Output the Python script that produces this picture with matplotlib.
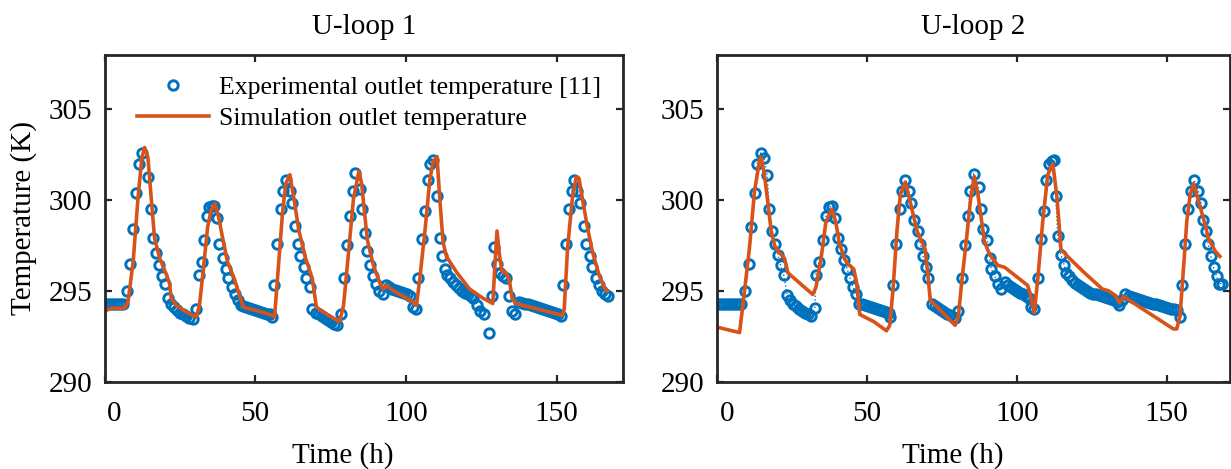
import matplotlib
matplotlib.use("Agg")
import matplotlib.pyplot as plt
import matplotlib.transforms as mtransforms

plt.rcParams['font.family'] = ['Liberation Serif', 'DejaVu Serif']
plt.rcParams['mathtext.fontset'] = 'stix'

BLUE = '#0072BD'
ORANGE = '#D95319'
AX_COL = '#262626'

titles = ['U-loop 1', 'U-loop 2']
xticks = [0, 50, 100, 150]
yticks = [290, 295, 300, 305]
exp_label = 'Experimental outlet temperature [11]'
sim_label = 'Simulation outlet temperature'

# ---- U-loop 1 : experimental (markers) ----
t_exp1 = [0, 1, 2, 3, 4, 5, 6, 7.3, 8.4, 9.5, 10.3, 11.4, 12.5, 14.4, 15.3, 16.1,
          17.2, 18.0, 19.1, 19.9, 21.0, 22, 23, 24, 25, 26, 27, 28, 29.3, 30.4,
          31.2, 32.3, 33.1, 34.0, 34.8, 35.6, 36.3, 37.3, 38.1, 39.2, 40.3, 41.1,
          42.2, 43.3, 44.4, 45.2, 46, 47, 48, 49, 50, 51, 52, 53, 54, 55, 55.6,
          56.2, 57.3, 58.4, 59.2, 60.1, 61.4, 62.3, 63.1, 64.2, 65.0, 66.1, 67.0,
          68.1, 68.9, 70, 71, 72, 73, 74, 75, 76, 77, 78.3, 79.3, 80.4, 81.5,
          82.4, 83.2, 84.6, 85.5, 86.3, 87.0, 88.1, 89.0, 90.1, 91.2, 92.3, 93.4,
          94.5, 95.5, 96.5, 97.5, 98.5, 99.5, 100.5, 101.3, 102.2, 103.3, 104.1,
          105.2, 106.3, 107.4, 108.1, 109.0, 110.3, 111.2, 112.1, 112.9, 113.7,
          114.5, 115.5, 116.5, 117.5, 118.5, 119.5, 120.5, 121.5, 122.3, 123.4,
          124.6, 126.0, 127.6, 128.6, 129.3, 130.1, 131.2, 132.2, 133.1, 134.2,
          135.2, 136.3, 137.6, 138.6, 139.6, 140.6, 141.6, 142.6, 143.6, 144.6,
          145.6, 146.6, 147.6, 148.6, 149.6, 150.6, 151.4, 152.1, 153.2, 154.1,
          155.0, 155.7, 156.9, 157.6, 159.1, 159.8, 160.9, 161.8, 162.9, 164.0,
          165.1, 166.0, 167.1]
T_exp1 = [294.3, 294.3, 294.3, 294.3, 294.3, 294.3, 294.3, 295.0, 296.5, 298.4,
          300.4, 302.0, 302.6, 301.3, 299.5, 297.9, 297.1, 296.4, 295.8, 295.4,
          294.6, 294.3, 294.1, 293.95, 293.8, 293.7, 293.6, 293.5, 293.45, 294.0,
          295.9, 296.6, 297.8, 299.1, 299.6, 299.65, 299.7, 299.0, 297.6, 296.8,
          296.2, 295.7, 295.2, 294.85, 294.5, 294.2, 294.15, 294.1, 294.05, 294.0,
          293.95, 293.9, 293.85, 293.8, 293.75, 293.7, 293.55, 295.3, 297.6, 299.5,
          300.5, 301.1, 300.5, 299.85, 298.6, 297.6, 296.9, 296.3, 295.7, 295.2,
          294.0, 293.8, 293.7, 293.6, 293.5, 293.4, 293.3, 293.2, 293.1, 293.7,
          295.7, 297.5, 299.1, 300.5, 301.5, 300.6, 299.5, 298.2, 297.2, 296.4,
          295.8, 295.4, 295.0, 294.85, 295.3, 295.2, 295.1, 295.05, 295.0, 294.95,
          294.9, 294.8, 294.7, 294.1, 294.0, 295.7, 297.85, 299.4, 301.1, 302.0,
          302.2, 300.2, 297.9, 296.9, 296.2, 295.9, 295.7, 295.5, 295.3, 295.15,
          295.0, 294.9, 294.8, 294.7, 294.6, 294.2, 293.9, 293.7, 292.65, 294.7,
          297.4, 296.5, 296.0, 295.8, 295.7, 294.7, 293.9, 293.7, 294.4, 294.35,
          294.3, 294.25, 294.2, 294.15, 294.1, 294.05, 294.0, 293.95, 293.9, 293.85,
          293.8, 293.75, 293.6, 295.3, 297.6, 299.5, 300.5, 301.1, 300.5, 299.85,
          298.6, 297.6, 296.9, 296.3, 295.7, 295.3, 295.0, 294.8, 294.7]

# ---- U-loop 1 : simulation (line) ----
t_sim1 = [0.3, 2.3, 6.7, 7.8, 9.5, 11.1, 12.4, 13.3, 14.4, 15.5, 16.6, 18.3, 20.5,
          21.6, 22.1, 23.8, 26.5, 30.4, 31.5, 32.6, 34.2, 35.3, 36.6, 37.7, 39.2,
          40.8, 43.0, 44.1, 46.1, 50.7, 55.7, 56.4, 57.3, 59.0, 60.1, 61.5, 62.8,
          64.5, 66.7, 68.9, 70.3, 73.8, 78.0, 79.3, 81.0, 82.6, 84.4, 85.3, 86.2,
          87.2, 89.2, 91.4, 92.5, 93.6, 95.8, 101.3, 103.5, 104.6, 106.3, 107.9,
          109.0, 110.3, 111.2, 112.3, 113.4, 116.7, 121.1, 125.5, 128.8, 129.5,
          130.2, 131.0, 131.8, 133.2, 134.3, 135.2, 136.5, 138.7, 150.8, 151.9,
          152.5, 153.6, 155.2, 156.5, 157.4, 158.5, 160.2, 161.8, 164.0, 165.7,
          166.8]
T_sim1 = [293.9, 294.05, 294.05, 294.4, 296.6, 300.1, 302.35, 302.9, 302.35, 300.1,
          297.9, 296.8, 295.9, 295.4, 294.6, 294.2, 293.9, 293.55, 294.2, 295.9,
          298.5, 299.4, 299.8, 299.2, 297.9, 296.6, 295.7, 295.1, 294.1, 293.9,
          293.65, 293.55, 295.5, 299.2, 300.9, 301.4, 300.1, 298.3, 296.8, 295.7,
          294.1, 293.7, 293.3, 294.2, 297.2, 300.1, 301.6, 300.9, 299.4, 297.8,
          296.4, 295.4, 295.1, 295.3, 295.0, 294.5, 294.2, 295.7, 298.3, 301.1,
          302.1, 302.4, 300.1, 297.7, 296.9, 296.05, 295.1, 294.6, 294.3, 296.4,
          298.3, 297.0, 296.1, 296.0, 295.6, 294.6, 294.3, 294.2, 293.7, 293.65,
          294.0, 297.35, 300.1, 301.3, 301.2, 300.1, 298.5, 297.2, 295.9, 295.2,
          295.0]

# ---- U-loop 2 : experimental (markers) ----
t_exp2 = [0, 1, 2, 3, 4, 5, 6, 7, 8, 9.4, 10.5, 11.4, 12.5, 13.4, 14.5, 15.6, 16.7,
          17.4, 18.4, 19.2, 20.3, 21.2, 22.2, 23.4, 24.3, 25.3, 26.3, 27.3, 28.3,
          29.3, 30.3, 31.4, 32.6, 33.0, 34.1, 35.4, 36.3, 37.3, 38.5, 39.4, 40.3,
          41.3, 42.4, 43.4, 44.4, 45.4, 46.5, 47.4, 48.4, 49.4, 50.4, 51.4, 52.4,
          53.4, 54.4, 55.4, 56.4, 57.3, 57.8, 58.7, 59.8, 60.9, 61.7, 62.8, 63.9,
          64.6, 65.6, 66.9, 67.8, 68.7, 69.8, 70.5, 71.7, 72.6, 73.6, 74.6, 75.6,
          76.6, 77.6, 78.6, 79.4, 80.5, 81.6, 82.7, 83.6, 84.4, 85.6, 87.2, 87.9,
          88.7, 90.1, 90.9, 91.5, 92.6, 93.7, 94.8, 95.9, 97.0, 98, 99, 100, 101,
          102, 103, 104.2, 104.8, 105.8, 107.0, 108.0, 108.9, 109.7, 110.8, 111.6,
          112.3, 113.0, 113.6, 114.7, 115.8, 116.4, 117.4, 118.4, 119.4, 120.4,
          121.4, 122.4, 123.4, 124.4, 125.4, 126.4, 127.4, 128.4, 129.4, 130.4,
          131.4, 132.4, 133.3, 134.0, 135.1, 136.2, 137.3, 138.3, 139.3, 140.3,
          141.3, 142.3, 143.3, 144.3, 145.3, 146.3, 147.3, 148.3, 149.3, 150.3,
          151.3, 152.3, 153.3, 154.4, 155.2, 156.1, 157.2, 158.0, 159.1, 160.5,
          161.4, 162.2, 163.0, 163.8, 164.7, 165.6, 166.6, 167.4, 168.3]
T_exp2 = [294.25, 294.25, 294.25, 294.25, 294.25, 294.25, 294.25, 294.25, 294.25,
          295.0, 296.5, 298.5, 300.4, 302.0, 302.6, 302.3, 301.4, 299.5, 298.3,
          297.6, 297.0, 296.4, 295.9, 294.75, 294.5, 294.3, 294.15, 294.0, 293.9,
          293.8, 293.7, 293.6, 294.05, 295.9, 296.6, 297.8, 299.1, 299.6, 299.7,
          299.0, 297.9, 297.3, 296.7, 296.2, 295.7, 295.2, 294.85, 294.3, 294.25,
          294.2, 294.15, 294.1, 294.05, 294.0, 293.95, 293.9, 293.85, 293.8, 293.55,
          295.3, 297.6, 299.5, 300.5, 301.1, 300.5, 299.85, 298.9, 298.3, 297.6,
          296.9, 296.3, 295.7, 294.3, 294.15, 294.05, 293.95, 293.85, 293.75,
          293.65, 293.55, 293.5, 293.9, 295.7, 297.5, 299.1, 300.5, 301.45, 300.7,
          299.5, 298.4, 297.8, 296.8, 296.2, 295.8, 295.4, 295.1, 295.5, 295.3,
          295.2, 295.1, 295.0, 294.9, 294.8, 294.7, 294.6, 294.1, 294.0, 295.7,
          297.85, 299.4, 301.1, 302.0, 302.15, 302.2, 300.2, 298.0, 297.0, 296.4,
          296.0, 295.8, 295.6, 295.45, 295.3, 295.2, 295.1, 295.0, 294.9, 294.85,
          294.8, 294.75, 294.7, 294.65, 294.6, 294.55, 294.5, 294.4, 294.2, 294.5,
          294.8, 294.7, 294.65, 294.6, 294.55, 294.5, 294.45, 294.4, 294.35, 294.3,
          294.25, 294.2, 294.15, 294.1, 294.05, 294.0, 293.98, 293.95, 293.55,
          295.3, 297.6, 299.5, 300.5, 301.1, 300.5, 299.85, 298.9, 298.3, 297.6,
          296.9, 296.3, 295.8, 295.4, 295.4]

# ---- U-loop 2 : simulation (line) ----
t_sim2 = [0.0, 7.5, 8.6, 10.8, 12.5, 14.2, 14.7, 15.8, 17.0, 18.05, 19.2, 20.8,
          22.5, 23.6, 31.9, 33.0, 34.7, 36.3, 38.3, 39.6, 40.7, 42.4, 43.5, 45.6,
          46.5, 47.6, 52.3, 56.5, 57.6, 58.7, 60.0, 61.1, 62.8, 64.5, 66.7, 69.4,
          70.2, 71.1, 79.4, 80.5, 81.6, 83.1, 84.6, 85.8, 87.0, 88.1, 89.2, 90.9,
          93.7, 95.9, 103.6, 104.5, 105.8, 107.0, 108.6, 110.3, 112.0, 113.4,
          114.7, 116.9, 122.5, 128.5, 130.6, 132.8, 134.2, 135.6, 137.3, 152.2,
          153.3, 154.4, 155.5, 156.7, 157.8, 158.9, 160.5, 162.2, 163.9, 166.1,
          167.7]
T_sim2 = [293.0, 292.7, 294.2, 297.35, 300.5, 302.2, 302.35, 301.4, 299.8, 298.3,
          297.5, 297.1, 296.8, 296.0, 294.8, 295.2, 296.8, 298.8, 299.5, 298.8,
          297.7, 296.8, 296.5, 296.2, 295.5, 293.7, 293.3, 292.8, 293.1, 295.1,
          298.3, 300.3, 301.0, 299.85, 298.3, 297.3, 296.1, 294.5, 293.1, 293.6,
          295.5, 297.7, 300.1, 301.3, 300.3, 299.0, 297.7, 297.0, 296.4, 296.3,
          295.3, 294.8, 293.8, 295.7, 298.8, 301.4, 302.0, 300.1, 297.3, 296.9,
          296.0, 295.1, 295.0, 294.75, 294.35, 294.7, 294.5, 292.9, 292.9, 293.6,
          296.1, 298.9, 300.3, 300.9, 300.0, 299.0, 297.9, 297.2, 296.9]

panels = [
    (t_exp1, T_exp1, t_sim1, T_sim1, 'None'),
    (t_exp2, T_exp2, t_sim2, T_sim2, ':'),
]

fig = plt.figure(figsize=(12.31, 4.69), dpi=100)
ax1 = fig.add_axes([0.0849, 0.1864, 0.4212, 0.6964])
ax2 = fig.add_axes([0.5825, 0.1864, 0.4165, 0.6964])
axes = [ax1, ax2]
xlims = [(0.5, 172), (0.5, 171)]

for i, ax in enumerate(axes):
    te, Te, ts, Ts, ls = panels[i]
    ax.plot(te, Te, linestyle=ls, lw=1.0, color=BLUE, marker='o', ms=6.8,
            mfc='none', mec=BLUE, mew=2.1, label=exp_label)
    ax.plot(ts, Ts, '-', color=ORANGE, lw=2.6, label=sim_label)

    ax.set_xlim(*xlims[i])
    ax.set_ylim(290, 308)
    ax.set_xticks(xticks)
    ax.set_yticks(yticks)
    ax.tick_params(direction='in', length=5, width=1.6, colors=AX_COL,
                   labelcolor='black', labelsize=21, top=True, right=True)
    ax.tick_params(axis='y', pad=9)
    ax.tick_params(axis='x', pad=14)
    for sp in ax.spines.values():
        sp.set_color(AX_COL)
        sp.set_linewidth(2.0)

    ax.set_title(titles[i], fontsize=21, pad=15)
    ax.set_xlabel('Time (h)', fontsize=21)
    ax.xaxis.set_label_coords(0.46, -0.185)

    # first tick label sits a little right of the tick, as in the figure
    fig.canvas.draw()
    lab0 = ax.get_xticklabels()[0]
    lab0.set_transform(lab0.get_transform() +
                       mtransforms.ScaledTranslation(0.1, 0, fig.dpi_scale_trans))

ax1.set_ylabel('Temperature (K)', fontsize=21, labelpad=8)

ax1.legend(loc='upper left', bbox_to_anchor=(0.063, 0.935), frameon=False,
           fontsize=18.5, numpoints=1, handlelength=2.8, handletextpad=0.4,
           labelspacing=0.3, borderaxespad=0, borderpad=0)

fig.savefig('out.png', dpi=100)
